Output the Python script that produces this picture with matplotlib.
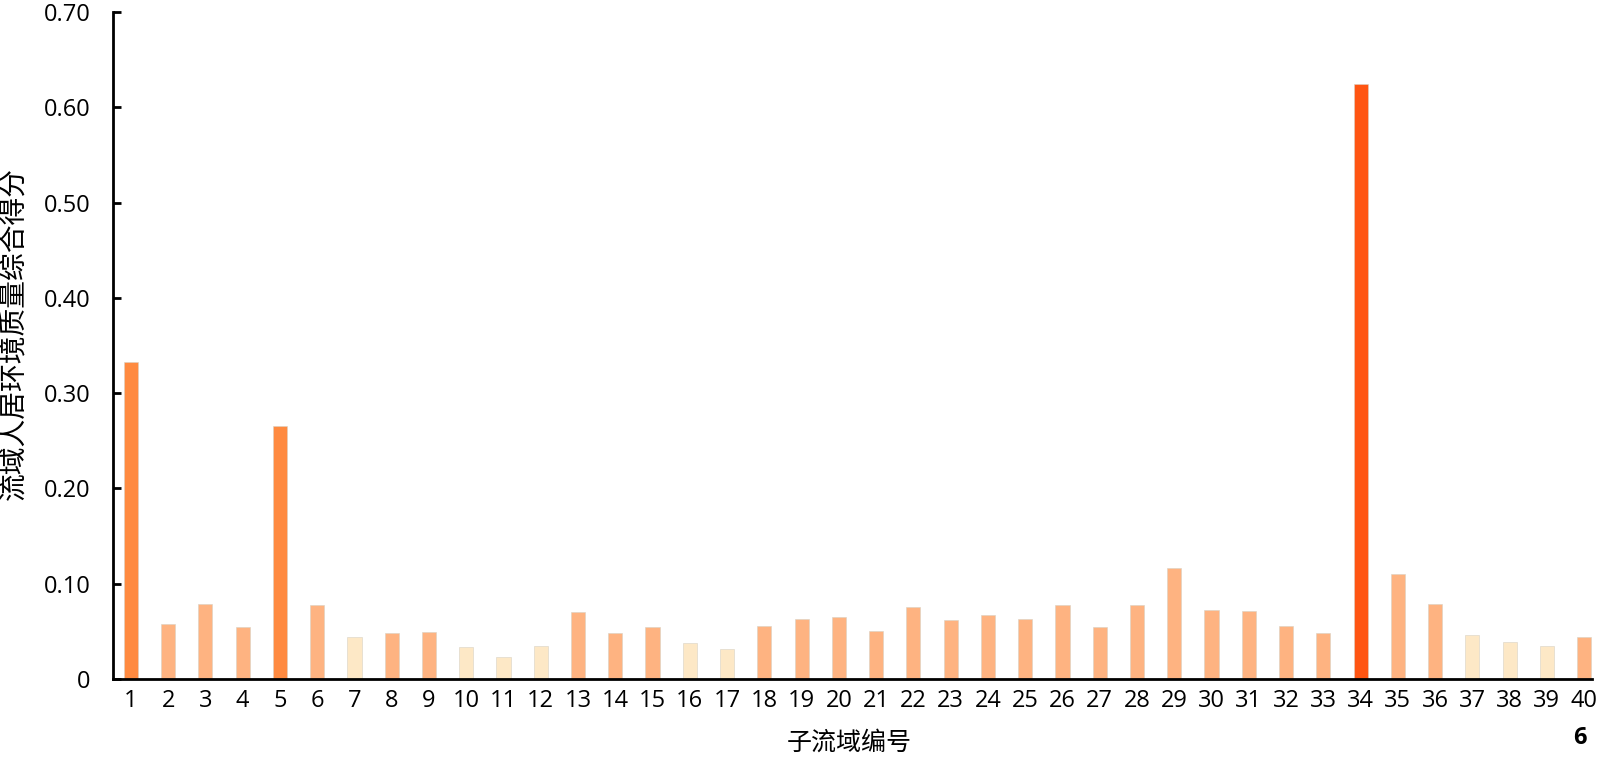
import matplotlib
matplotlib.use('Agg')
import numpy as np
from matplotlib import pyplot as plt

plt.rcParams['font.family'] = ['Open Sans', 'Noto Sans CJK SC', 'DejaVu Sans']

# sub-basin ids and composite scores
basins = list(range(1, 41))
scores = [
    0.333, 0.058, 0.079, 0.055, 0.265, 0.078, 0.044, 0.048, 0.049, 0.034,
    0.023, 0.035, 0.070, 0.048, 0.055, 0.038, 0.031, 0.056, 0.063, 0.065,
    0.050, 0.076, 0.062, 0.067, 0.063, 0.078, 0.055, 0.078, 0.117, 0.072,
    0.071, 0.056, 0.048, 0.624, 0.110, 0.079, 0.046, 0.039, 0.035, 0.044,
]
# grade of each bar: 0 = low, 1 = medium, 2 = high, 3 = highest
grades = [
    2, 1, 1, 1, 2, 1, 0, 1, 1, 0,
    0, 0, 1, 1, 1, 0, 0, 1, 1, 1,
    1, 1, 1, 1, 1, 1, 1, 1, 1, 1,
    1, 1, 1, 3, 1, 1, 0, 0, 0, 1,
]
grade_colors = ['#FDE8C6', '#FEB381', '#FF8A40', '#FF5512']

y_ticks = [0, 0.1, 0.2, 0.3, 0.4, 0.5, 0.6, 0.7]
y_tick_labels = ['0', '0.10', '0.20', '0.30', '0.40', '0.50', '0.60', '0.70']


def main():
    fig = plt.figure(figsize=(16, 7.59), dpi=100)
    ax = fig.add_axes([0.0706, 0.1054, 0.9244, 0.8788])

    colors = [grade_colors[g] for g in grades]
    ax.bar(basins, scores, width=0.38, color=colors,
           edgecolor='#d9d2c4', linewidth=0.4, zorder=2)

    ax.set_xlim(0.52, 40.21)
    ax.set_ylim(0, 0.7)
    ax.set_xticks(basins)
    ax.set_xticklabels([str(b) for b in basins], fontsize=17)
    ax.set_yticks(y_ticks)
    ax.set_yticklabels(y_tick_labels, fontsize=17)
    ax.tick_params(axis='x', length=0, pad=7)
    ax.tick_params(axis='y', direction='in', length=6, width=2, pad=16)

    for side in ('top', 'right'):
        ax.spines[side].set_visible(False)
    for side in ('left', 'bottom'):
        ax.spines[side].set_linewidth(2)
        ax.spines[side].set_color('black')

    fig.text(0.0094, 0.56, '流域人居环境质量综合得分', rotation=90,
             ha='center', va='center', fontsize=20)
    fig.text(0.531, 0.021, '子流域编号', ha='center', va='center',
             fontsize=18)
    fig.text(0.9875, 0.028, '6', ha='center', va='center',
             fontsize=17, fontweight='bold')

    fig.savefig('out.png', dpi=100)


if __name__ == '__main__':
    main()
